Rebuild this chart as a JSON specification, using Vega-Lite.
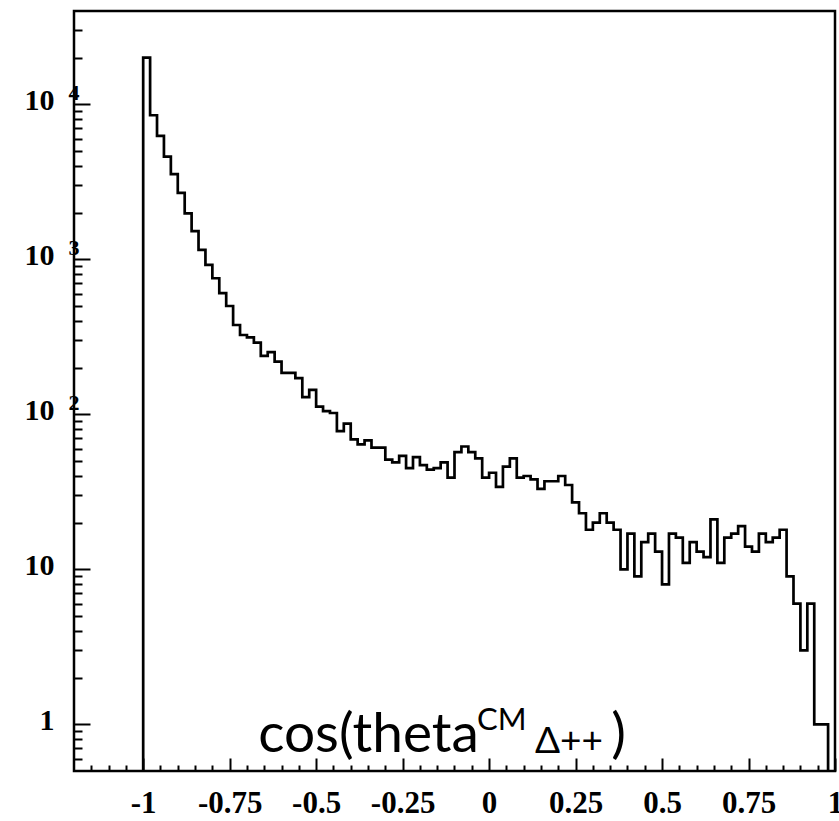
{
  "$schema": "https://vega.github.io/schema/vega-lite/v6.json",
  "width": 761,
  "height": 760,
  "autosize": {"type": "none"},
  "padding": {"left": 74, "top": 11, "right": 4, "bottom": 50},
  "background": "white",
  "config": {
    "view": {"stroke": "black", "strokeWidth": 2.5},
    "axis": {"grid": false, "domain": false, "title": null, "tickColor": "black", "tickWidth": 2, "labelColor": "black", "labelFont": "Liberation Serif", "labelFontWeight": "bold", "labelOverlap": false, "labelFlush": false}
  },
  "resolve": {"axis": {"x": "independent", "y": "independent"}},
  "layer": [
    {
      "data": {"values": [
        {"x": -1, "n": 0.5},
        {"x": -1, "n": 20000}, {"x": -0.98, "n": 8500}, {"x": -0.96, "n": 6250}, {"x": -0.94, "n": 4600}, {"x": -0.92, "n": 3550},
        {"x": -0.9, "n": 2680}, {"x": -0.88, "n": 1980}, {"x": -0.86, "n": 1520}, {"x": -0.84, "n": 1150}, {"x": -0.82, "n": 920},
        {"x": -0.8, "n": 755}, {"x": -0.78, "n": 605}, {"x": -0.76, "n": 500}, {"x": -0.74, "n": 377}, {"x": -0.72, "n": 325},
        {"x": -0.7, "n": 314}, {"x": -0.68, "n": 290}, {"x": -0.66, "n": 238}, {"x": -0.64, "n": 252}, {"x": -0.62, "n": 219},
        {"x": -0.6, "n": 185}, {"x": -0.58, "n": 185}, {"x": -0.56, "n": 171}, {"x": -0.54, "n": 129}, {"x": -0.52, "n": 144},
        {"x": -0.5, "n": 112}, {"x": -0.48, "n": 105}, {"x": -0.46, "n": 102}, {"x": -0.44, "n": 78}, {"x": -0.42, "n": 87},
        {"x": -0.4, "n": 69}, {"x": -0.38, "n": 64}, {"x": -0.36, "n": 68}, {"x": -0.34, "n": 61}, {"x": -0.32, "n": 61},
        {"x": -0.3, "n": 51}, {"x": -0.28, "n": 49}, {"x": -0.26, "n": 54}, {"x": -0.24, "n": 45}, {"x": -0.22, "n": 53},
        {"x": -0.2, "n": 47}, {"x": -0.18, "n": 44}, {"x": -0.16, "n": 45}, {"x": -0.14, "n": 49}, {"x": -0.12, "n": 39},
        {"x": -0.1, "n": 57}, {"x": -0.08, "n": 62}, {"x": -0.06, "n": 57}, {"x": -0.04, "n": 52}, {"x": -0.02, "n": 39},
        {"x": 0, "n": 42}, {"x": 0.02, "n": 34}, {"x": 0.04, "n": 46}, {"x": 0.06, "n": 52}, {"x": 0.08, "n": 39},
        {"x": 0.1, "n": 40}, {"x": 0.12, "n": 38}, {"x": 0.14, "n": 33}, {"x": 0.16, "n": 37}, {"x": 0.18, "n": 37},
        {"x": 0.2, "n": 40}, {"x": 0.22, "n": 35}, {"x": 0.24, "n": 27}, {"x": 0.26, "n": 23}, {"x": 0.28, "n": 18},
        {"x": 0.3, "n": 20}, {"x": 0.32, "n": 23}, {"x": 0.34, "n": 20}, {"x": 0.36, "n": 18}, {"x": 0.38, "n": 10},
        {"x": 0.4, "n": 17}, {"x": 0.42, "n": 9}, {"x": 0.44, "n": 15}, {"x": 0.46, "n": 17}, {"x": 0.48, "n": 13},
        {"x": 0.5, "n": 8}, {"x": 0.52, "n": 17}, {"x": 0.54, "n": 16}, {"x": 0.56, "n": 11}, {"x": 0.58, "n": 15},
        {"x": 0.6, "n": 13}, {"x": 0.62, "n": 12}, {"x": 0.64, "n": 21}, {"x": 0.66, "n": 11}, {"x": 0.68, "n": 16},
        {"x": 0.7, "n": 17}, {"x": 0.72, "n": 19}, {"x": 0.74, "n": 14}, {"x": 0.76, "n": 13}, {"x": 0.78, "n": 17},
        {"x": 0.8, "n": 15}, {"x": 0.82, "n": 16}, {"x": 0.84, "n": 18}, {"x": 0.86, "n": 9}, {"x": 0.88, "n": 6},
        {"x": 0.9, "n": 3}, {"x": 0.92, "n": 6}, {"x": 0.94, "n": 1}, {"x": 0.96, "n": 1},
        {"x": 0.98, "n": 0.5}
      ]},
      "mark": {"type": "line", "interpolate": "step-after", "color": "black", "strokeWidth": 2.7, "clip": true},
      "encoding": {
        "x": {"field": "x", "type": "quantitative", "scale": {"domain": [-1.2, 1.0], "nice": false, "zero": false},
          "axis": {"orient": "bottom", "values": [-1, -0.75, -0.5, -0.25, 0, 0.25, 0.5, 0.75, 1], "labels": false, "ticks": true, "tickSize": -13}},
        "y": {"field": "n", "type": "quantitative", "scale": {"type": "log", "domain": [0.5, 40000], "nice": false},
          "axis": {"orient": "left", "values": [1, 10, 100, 1000, 10000], "labels": false, "ticks": true, "tickSize": -16}},
        "order": {"value": null}
      }
    },
    {
      "data": {"values": [{}]},
      "mark": {"type": "text", "text": "cos(theta", "font": "Lato", "fontSize": 55, "align": "center", "baseline": "alphabetic", "color": "black"},
      "encoding": {
        "x": {"datum": -0.3486, "type": "quantitative", "scale": {"domain": [-1.2, 1.0], "nice": false, "zero": false},
          "axis": {"orient": "bottom", "values": [-1.15, -1.1, -1.05, -0.95, -0.9, -0.85, -0.8, -0.7, -0.65, -0.6, -0.55, -0.45, -0.4, -0.35, -0.3, -0.2, -0.15, -0.1, -0.05, 0.05, 0.1, 0.15, 0.2, 0.3, 0.35, 0.4, 0.45, 0.55, 0.6, 0.65, 0.7, 0.8, 0.85, 0.9, 0.95], "labels": false, "ticks": true, "tickSize": -6}},
        "y": {"datum": 0.663, "type": "quantitative", "scale": {"type": "log", "domain": [0.5, 40000], "nice": false},
          "axis": {"orient": "left", "values": [0.6, 0.7, 0.8, 0.9, 2, 3, 4, 5, 6, 7, 8, 9, 20, 30, 40, 50, 60, 70, 80, 90, 200, 300, 400, 500, 600, 700, 800, 900, 2000, 3000, 4000, 5000, 6000, 7000, 8000, 9000, 20000, 30000], "labels": false, "ticks": true, "tickSize": -8}}
      }
    },
    {
      "data": {"values": [{}]},
      "mark": {"type": "text", "text": "CM", "font": "Lato", "fontSize": 31, "align": "center", "baseline": "alphabetic", "color": "black"},
      "encoding": {
        "x": {"datum": 0.0369, "type": "quantitative", "scale": {"domain": [-1.2, 1.0], "nice": false, "zero": false},
          "axis": {"orient": "bottom", "values": [-1, -0.75, -0.5, -0.25, 0, 0.25, 0.5, 0.75, 1], "ticks": false, "tickSize": 0, "labelPadding": 41, "labelBaseline": "alphabetic", "labelAlign": "center", "labelFontSize": 31, "labelExpr": "'' + datum.value"}},
        "y": {"datum": 0.919, "type": "quantitative", "scale": {"type": "log", "domain": [0.5, 40000], "nice": false},
          "axis": {"orient": "left", "values": [1, 10, 100, 1000, 10000], "ticks": false, "tickSize": 0, "labelPadding": 20, "labelAlign": "right", "labelBaseline": "alphabetic", "labelOffset": 5, "labelFontSize": 30, "labelExpr": "datum.value == 1 ? '1' : '10'"}}
      }
    },
    {
      "data": {"values": [{}]},
      "mark": {"type": "text", "text": "Δ++", "font": "Lato", "fontSize": 37, "align": "center", "baseline": "alphabetic", "color": "black"},
      "encoding": {
        "x": {"datum": 0.231, "type": "quantitative", "scale": {"domain": [-1.2, 1.0], "nice": false, "zero": false}, "axis": null},
        "y": {"datum": 0.653, "type": "quantitative", "scale": {"type": "log", "domain": [0.5, 40000], "nice": false},
          "axis": {"orient": "left", "values": [100, 1000, 10000], "ticks": false, "tickSize": 0, "labelPadding": 6, "labelAlign": "left", "labelBaseline": "alphabetic", "labelOffset": -5, "labelFontSize": 22, "labelExpr": "datum.value == 100 ? '2' : datum.value == 1000 ? '3' : '4'"}}
      }
    },
    {
      "data": {"values": [{}]},
      "mark": {"type": "text", "text": ")", "font": "Lato", "fontSize": 55, "align": "center", "baseline": "alphabetic", "color": "black"},
      "encoding": {
        "x": {"datum": 0.3741, "type": "quantitative", "scale": {"domain": [-1.2, 1.0], "nice": false, "zero": false}, "axis": null},
        "y": {"datum": 0.663, "type": "quantitative", "scale": {"type": "log", "domain": [0.5, 40000], "nice": false}, "axis": null}
      }
    }
  ]
}
